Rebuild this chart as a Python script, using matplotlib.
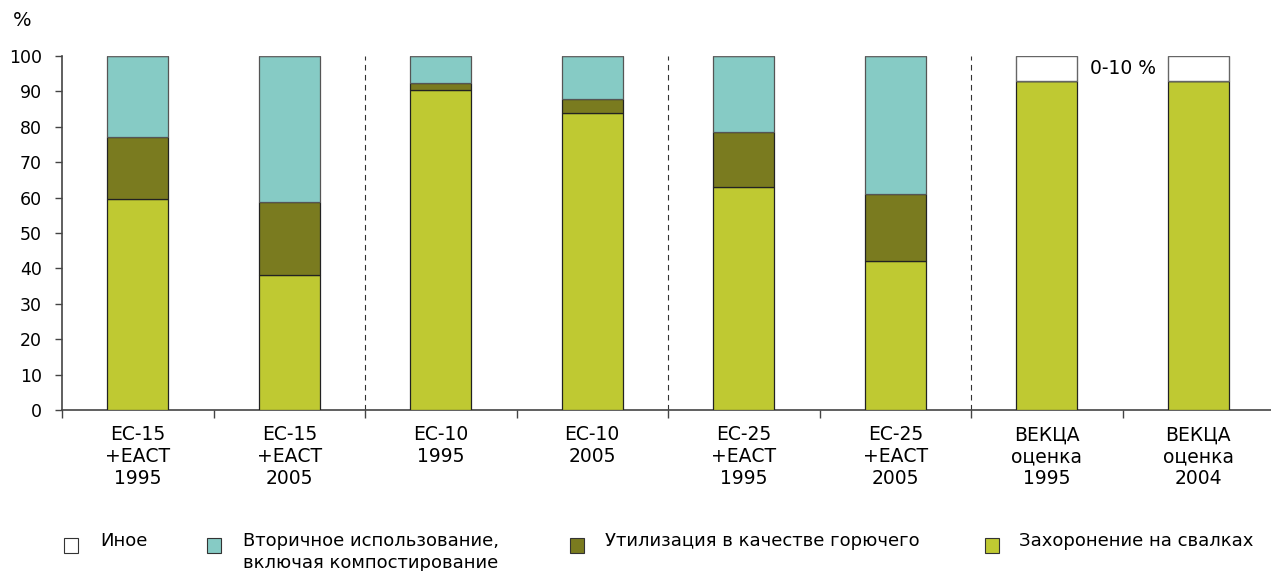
import matplotlib
matplotlib.use("Agg")
import matplotlib.pyplot as plt
from matplotlib.patches import Rectangle

categories = ["ЕС-15\n+ЕАСТ\n1995", "ЕС-15\n+ЕАСТ\n2005", "ЕС-10\n1995", "ЕС-10\n2005",
              "ЕС-25\n+ЕАСТ\n1995", "ЕС-25\n+ЕАСТ\n2005", "ВЕКЦА\nоценка\n1995", "ВЕКЦА\nоценка\n2004"]
landfill = [59.5, 38.1, 90.5, 84.0, 63.1, 42.2, 93.0, 93.0]
fuel = [17.5, 20.6, 1.8, 3.9, 15.5, 18.9, 0.0, 0.0]
recycling = [23.0, 41.3, 7.7, 12.1, 21.4, 38.9, 0.0, 0.0]
other = [0.0, 0.0, 0.0, 0.0, 0.0, 0.0, 7.0, 7.0]
series_names = ["Иное", "Вторичное использование,\nвключая компостирование",
                "Утилизация в качестве горючего", "Захоронение на свалках"]
colors = {"other": "#FFFFFF", "recycling": "#86CBC5", "fuel": "#7A7B1F", "landfill": "#BFC932"}
yticks = [0, 10, 20, 30, 40, 50, 60, 70, 80, 90, 100]
annotation = "0-10 %"

plt.rcParams['font.family'] = ['DejaVu Sans']
fig = plt.figure(figsize=(12.71, 5.71), dpi=100)
W, H = 1271, 571
ax = fig.add_axes([62 / W, 1 - 410 / H, 1212 / W, 354 / H])

x = list(range(len(categories)))
bw = 0.4
b1 = [l for l in landfill]
b2 = [l + f for l, f in zip(landfill, fuel)]
b3 = [l + f + r for l, f, r in zip(landfill, fuel, recycling)]
ax.bar(x, landfill, bw, color=colors["landfill"], edgecolor="#222222", linewidth=0.9, zorder=3)
ax.bar(x, fuel, bw, bottom=b1, color=colors["fuel"], edgecolor="#222222", linewidth=0.9, zorder=3)
ax.bar(x, recycling, bw, bottom=b2, color=colors["recycling"], edgecolor="#555555", linewidth=0.9, zorder=3)
ax.bar(x, other, bw, bottom=b3, color=colors["other"], edgecolor="#666666", linewidth=1.0, zorder=3)

ax.set_xlim(-0.5, len(categories) - 0.5)
ax.set_ylim(0, 100)
ax.set_yticks(yticks)
ax.tick_params(axis='y', direction='out', length=5, width=1, color="#444444", labelsize=12.5, pad=9.5)
ax.set_xticks([i + 0.5 for i in range(-1, len(categories))])
ax.set_xticklabels([])
ax.set_xticks(x, minor=True)
ax.set_xticklabels(categories, minor=True, fontsize=13.5, linespacing=1.2)
ax.tick_params(axis='x', which='major', direction='out', length=6, width=1, color="#444444")
ax.tick_params(axis='x', which='minor', length=0, pad=11)
for s in ["top", "right"]:
    ax.spines[s].set_visible(False)
for s in ["left", "bottom"]:
    ax.spines[s].set_color("#444444")
    ax.spines[s].set_linewidth(1.2)

for xv in [1.5, 3.5, 5.5]:
    ax.plot([xv, xv], [0, 100], linestyle=(0, (5, 4)), color="#333333", linewidth=0.8, zorder=2, clip_on=False)

ax.text(6.5, 96.6, annotation, ha="center", va="center", fontsize=13.5)
fig.text(22 / W, 1 - 20 / H, "%", ha="center", va="center", fontsize=14)

# legend
leg_items = [(64, 100, colors["other"], series_names[0]),
             (207, 243, colors["recycling"], series_names[1]),
             (570, 605, colors["fuel"], series_names[2]),
             (985, 1019, colors["landfill"], series_names[3])]
for sx, tx, c, name in leg_items:
    fig.patches.append(Rectangle((sx / W, 1 - 553 / H), 14 / W, 15 / H, transform=fig.transFigure,
                                 facecolor=c, edgecolor="#333333", linewidth=0.8))
    fig.text(tx / W, 1 - 539 / H, name.split("\n")[0], ha="left", va="center_baseline", fontsize=13)
    if "\n" in name:
        fig.text(tx / W, 1 - 561 / H, name.split("\n")[1], ha="left", va="center_baseline", fontsize=13)

fig.savefig("out.png", dpi=100)
